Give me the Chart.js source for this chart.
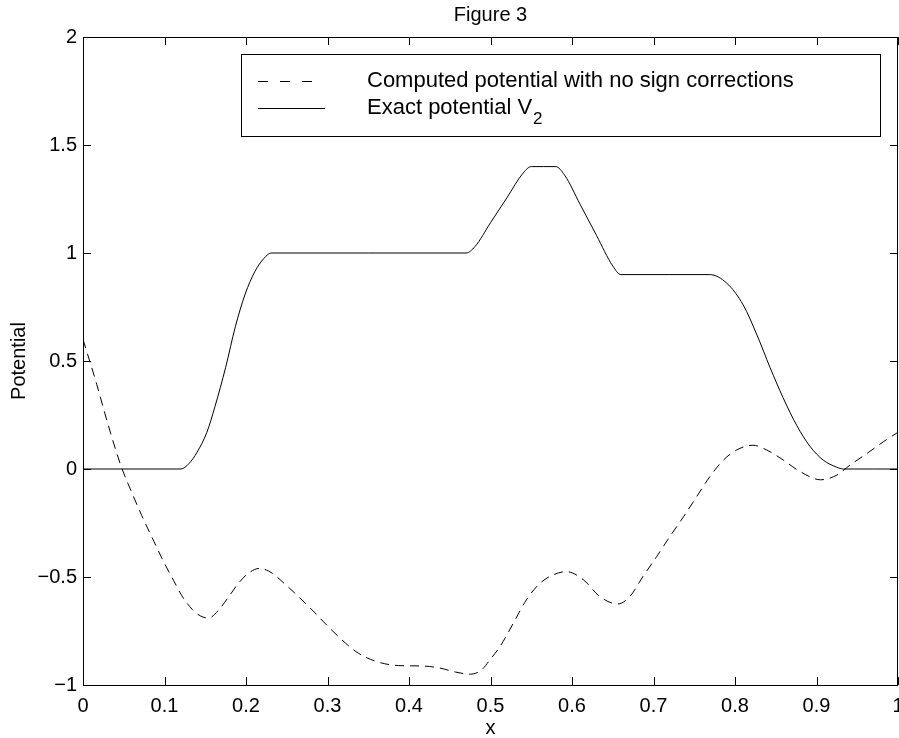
<!DOCTYPE html>
<html>
<head>
<meta charset="utf-8">
<title>Figure 3</title>
<script src="https://cdn.jsdelivr.net/npm/chart.js@4.4.1/dist/chart.umd.min.js"></script>
<style>
  html, body { margin: 0; padding: 0; background: #fff; }
  #wrap { width: 899px; height: 738px; }
</style>
</head>
<body>
<div id="wrap"><canvas id="fig"></canvas></div>
<script>
// exact potential V2 (piecewise)
const exactX = [0, 0.12, 0.13, 0.14, 0.152, 0.162, 0.175, 0.187, 0.199, 0.211, 0.222, 0.231,
  0.35, 0.47, 0.481, 0.5, 0.52, 0.54, 0.55, 0.565, 0.58, 0.591, 0.61, 0.63, 0.65, 0.66,
  0.72, 0.769, 0.79, 0.81, 0.827, 0.843, 0.859, 0.876, 0.892, 0.908, 0.925, 0.933, 0.97, 1];
const exactY = [0, 0, 0.025, 0.078, 0.17, 0.29, 0.47, 0.66, 0.81, 0.915, 0.975, 1,
  1, 1, 1.03, 1.14, 1.255, 1.37, 1.40, 1.40, 1.40, 1.36, 1.225, 1.082, 0.94, 0.90,
  0.90, 0.90, 0.86, 0.76, 0.62, 0.47, 0.33, 0.2, 0.105, 0.042, 0.008, 0, 0, 0];

// computed potential, no sign corrections
const computedX = [0, 0.017, 0.027, 0.04, 0.048, 0.06, 0.072, 0.087, 0.099, 0.111, 0.121, 0.134,
  0.144, 0.154, 0.166, 0.179, 0.191, 0.203, 0.217, 0.232, 0.244, 0.26, 0.281, 0.301, 0.322,
  0.338, 0.359, 0.387, 0.416, 0.436, 0.457, 0.475, 0.489, 0.5, 0.512, 0.528, 0.544, 0.561,
  0.577, 0.593, 0.614, 0.634, 0.656, 0.671, 0.687, 0.704, 0.72, 0.737, 0.753, 0.769, 0.786,
  0.802, 0.822, 0.839, 0.859, 0.88, 0.905, 0.925, 0.941, 0.962, 0.982, 1];
const computedY = [0.6, 0.39, 0.255, 0.09, 0, -0.11, -0.215, -0.335, -0.43, -0.515, -0.585, -0.65,
  -0.68, -0.69, -0.655, -0.59, -0.528, -0.482, -0.46, -0.482, -0.52, -0.575, -0.652, -0.73, -0.806,
  -0.853, -0.89, -0.91, -0.912, -0.92, -0.94, -0.95, -0.93, -0.88, -0.82, -0.714, -0.606, -0.528,
  -0.49, -0.475, -0.513, -0.59, -0.625, -0.59, -0.498, -0.405, -0.313, -0.22, -0.128, -0.036, 0.042,
  0.088, 0.11, 0.088, 0.042, -0.012, -0.05, -0.028, 0.018, 0.072, 0.126, 0.17];

const xTicks = [0, 0.1, 0.2, 0.3, 0.4, 0.5, 0.6, 0.7, 0.8, 0.9, 1];
const yTicks = [-1, -0.5, 0, 0.5, 1, 1.5, 2];

const legendLabels = ['Computed potential with no sign corrections', 'Exact potential V'];
const FONT = '"Liberation Sans", Arial, Helvetica, sans-serif';
const FS = 20;

const pts = (xs, ys) => xs.map((x, i) => ({ x: x, y: ys[i] }));
const fmt = v => {
    const r = Math.round(v * 10) / 10;
    return r < 0 ? '\u2212' + Math.abs(r) : String(r);
};

// box, inward ticks, title, axis labels, legend
const matlabFrame = {
    id: 'matlabFrame',
    afterDraw(chart) {
        const { ctx, chartArea: a, scales } = chart;
        const xs = scales.x, ys = scales.y;
        ctx.save();
        ctx.strokeStyle = '#000';
        ctx.lineWidth = 1;
        ctx.strokeRect(a.left + 0.5, a.top + 0.5, a.right - a.left - 1, a.bottom - a.top);

        ctx.beginPath();
        xTicks.forEach(v => {
            const px = Math.round(xs.getPixelForValue(v)) + 0.5;
            ctx.moveTo(px, a.bottom); ctx.lineTo(px, a.bottom - 8);
            ctx.moveTo(px, a.top); ctx.lineTo(px, a.top + 8);
        });
        yTicks.forEach(v => {
            const py = Math.round(ys.getPixelForValue(v)) + 0.5;
            ctx.moveTo(a.left, py); ctx.lineTo(a.left + 8, py);
            ctx.moveTo(a.right, py); ctx.lineTo(a.right - 8, py);
        });
        ctx.stroke();

        ctx.fillStyle = '#000';
        ctx.font = FS + 'px ' + FONT;
        ctx.textAlign = 'center';
        ctx.textBaseline = 'alphabetic';
        const cx = (a.left + a.right) / 2;
        ctx.fillText('Figure 3', cx, 21);
        ctx.fillText('x', cx, 734);

        ctx.save();
        ctx.translate(19, (a.top + a.bottom) / 2);
        ctx.rotate(-Math.PI / 2);
        ctx.textBaseline = 'middle';
        ctx.fillText('Potential', 0, 0);
        ctx.restore();

        // legend
        const lx = 241, ly = 54, lw = 639, lh = 82;
        ctx.fillStyle = '#fff';
        ctx.fillRect(lx, ly, lw, lh);
        ctx.strokeRect(lx + 0.5, ly + 0.5, lw, lh);
        const rows = [81, 108];
        ctx.lineWidth = 1;
        ctx.setLineDash([10, 12]);
        ctx.beginPath(); ctx.moveTo(258, rows[0] + 0.5); ctx.lineTo(313, rows[0] + 0.5); ctx.stroke();
        ctx.setLineDash([]);
        ctx.beginPath(); ctx.moveTo(258, rows[1] + 0.5); ctx.lineTo(325, rows[1] + 0.5); ctx.stroke();
        ctx.fillStyle = '#000';
        ctx.font = '22px ' + FONT;
        ctx.textAlign = 'left';
        ctx.textBaseline = 'middle';
        ctx.fillText(legendLabels[0], 367, rows[0]);
        ctx.fillText(legendLabels[1], 367, rows[1]);
        const w = ctx.measureText(legendLabels[1]).width;
        ctx.font = '17px ' + FONT;
        ctx.fillText('2', 368 + w, rows[1] + 11);
        ctx.restore();
    }
};

new Chart(document.getElementById('fig'), {
    type: 'line',
    data: {
        datasets: [{
            label: legendLabels[0],
            data: pts(computedX, computedY),
            borderColor: '#000',
            borderWidth: 1,
            borderDash: [9, 6],
            pointRadius: 0,
            cubicInterpolationMode: 'monotone',
            fill: false
        }, {
            label: 'Exact potential V2',
            data: pts(exactX, exactY),
            borderColor: '#000',
            borderWidth: 1,
            pointRadius: 0,
            cubicInterpolationMode: 'monotone',
            fill: false
        }]
    },
    options: {
        responsive: true,
        maintainAspectRatio: false,
        animation: false,
        events: [],
        layout: { padding: { top: 37, right: 1, left: 0, bottom: 0 } },
        plugins: { legend: { display: false }, title: { display: false }, tooltip: { enabled: false } },
        scales: {
            x: {
                type: 'linear', min: 0, max: 1,
                grid: { display: false, drawTicks: false },
                border: { display: false },
                ticks: { stepSize: 0.1, color: '#000', padding: 9, maxRotation: 0,
                    font: { family: FONT, size: FS }, callback: fmt },
                afterFit: s => { s.height = 53; s.paddingLeft = 0; s.paddingRight = 0; }
            },
            y: {
                type: 'linear', min: -1, max: 2,
                grid: { display: false, drawTicks: false },
                border: { display: false },
                ticks: { stepSize: 0.5, color: '#000', padding: 6,
                    font: { family: FONT, size: FS }, callback: fmt },
                afterFit: s => { s.width = 83; s.paddingTop = 0; s.paddingBottom = 0; }
            }
        }
    },
    plugins: [matlabFrame]
});
</script>
</body>
</html>
